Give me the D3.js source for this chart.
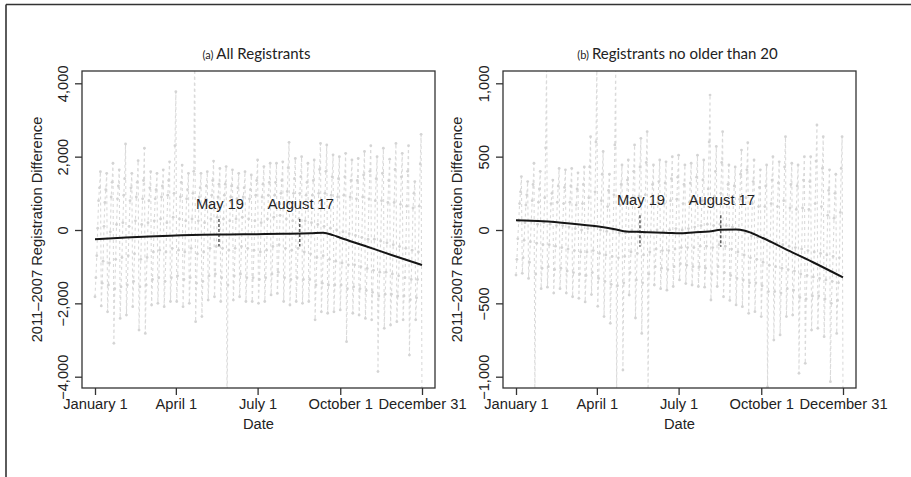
<!DOCTYPE html>
<html>
<head>
<meta charset="utf-8">
<script src="https://cdn.jsdelivr.net/npm/d3@7"></script>
<style>
  body { margin: 0; background: #fff; }
  .tick text { font-family: "Liberation Sans", Arial, sans-serif; font-size: 14.7px; fill: #222; }
  .lab { font-family: "Liberation Sans", Arial, sans-serif; font-size: 14.7px; fill: #222; }
  .title { font-family: Lato, "Open Sans", sans-serif; fill: #222; }
</style>
</head>
<body>
<svg id="chart" width="911" height="477"></svg>
<script>
// daily 2011-2007 differences, one row per week (Sat..Fri)
const allDaily = [
  -1820, -1300, -700, 50, 800, 1150, 1590,
  -2070, -1450, -850, 100, 750, 1100, 1545,
  -2230, -1500, -900, -50, 900, 1300, 1820,
  -3090, -1600, -800, 150, 850, 1200, 1640,
  -2410, -1550, -750, 200, 950, 1400, 2345,
  -2320, -1500, -700, 100, 800, 1150, 1545,
  -2090, -1400, -650, 250, 900, 1300, 1890,
  -2730, -1550, -800, 150, 850, 1350, 2230,
  -2820, -1500, -750, 200, 800, 1150, 1590,
  -2045, -1350, -600, 250, 850, 1100, 1545,
  -2000, -1300, -550, 300, 900, 1200, 1640,
  -2090, -1400, -600, 200, 950, 1350, 1860,
  -1950, -1300, -500, 350, 1000, 2300, 3770,
  -1950, -1250, -550, 300, 900, 1300, 1770,
  -2090, -1350, -600, 250, 850, 1100, 1545,
  -2000, -1300, -500, 300, 1000, 1600, 5200,
  -2500, -1450, -650, 250, 900, 1150, 1545,
  -2360, -1400, -600, 200, 850, 1200, 1590,
  -1910, -1250, -500, 300, 950, 1350, 1880,
  -1820, -1200, -450, 350, 900, 1250, 1680,
  -1950, -1300, -500, 300, 950, 1250, 1730,
  -5000, -1500, -550, 250, 900, 1200, 1640,
  -1910, -1250, -500, 300, 850, 1150, 1545,
  -1820, -1200, -450, 350, 900, 1150, 1590,
  -1950, -1300, -500, 300, 850, 1100, 1500,
  -1950, -1300, -550, 250, 950, 1350, 1910,
  -2000, -1350, -600, 200, 900, 1250, 1730,
  -1950, -1300, -550, 300, 950, 1300, 1820,
  -1770, -1200, -450, 350, 950, 1300, 1820,
  -1730, -1150, -400, 400, 1000, 1350, 1860,
  -1950, -1300, -500, 300, 1050, 1700, 2390,
  -2045, -1350, -550, 250, 1000, 1400, 1950,
  -1950, -1300, -500, 300, 1000, 1450, 2000,
  -2000, -1350, -600, 250, 950, 1300, 1820,
  -1950, -1350, -650, 200, 950, 1350, 1910,
  -2450, -1500, -750, 150, 1000, 1650, 2360,
  -2230, -1450, -700, 100, 1000, 1600, 2320,
  -2270, -1500, -800, 50, 950, 1450, 2050,
  -2230, -1500, -850, 0, 900, 1400, 2000,
  -2180, -1500, -900, -50, 950, 1450, 2090,
  -3045, -1600, -950, -100, 900, 1350, 1910,
  -2270, -1550, -950, -150, 850, 1350, 1950,
  -2320, -1600, -1000, -200, 900, 1500, 2140,
  -2410, -1650, -1050, -250, 850, 1600, 2300,
  -2450, -1700, -1100, -250, 800, 1400, 2000,
  -3860, -1800, -1150, -300, 800, 1550, 2230,
  -2680, -1750, -1150, -350, 750, 1350, 1930,
  -2590, -1750, -1200, -400, 750, 1650, 2360,
  -2500, -1800, -1250, -450, 700, 1450, 2090,
  -2450, -1800, -1300, -500, 650, 1600, 2300,
  -3410, -1900, -1350, -550, 600, 1000, 1320,
  -2450, -1850, -1350, -600, 650, 1800, 2610,
  -5000
];
const youngDaily = [
  -307, -200, -60, 60, 180, 260, 364,
  -295, -190, -70, 50, 170, 240, 330,
  -330, -220, -80, 60, 200, 310, 455,
  -1150, -300, -90, 40, 190, 280, 400,
  -400, -260, -100, 50, 220, 560, 1150,
  -390, -250, -100, 40, 180, 250, 340,
  -430, -270, -110, 30, 190, 300, 420,
  -400, -260, -120, 30, 180, 290, 410,
  -430, -280, -130, 20, 190, 300, 420,
  -455, -290, -140, 10, 170, 280, 390,
  -466, -300, -150, 0, 180, 310, 430,
  -490, -310, -150, 10, 220, 430, 636,
  -440, -290, -140, 20, 260, 600, 1150,
  -520, -330, -160, 0, 200, 380, 535,
  -590, -350, -170, -10, 160, 270, 380,
  -636, -370, -180, 0, 240, 580, 1150,
  -1150, -380, -190, -20, 170, 310, 443,
  -955, -360, -180, -20, 180, 340, 477,
  -443, -290, -150, 0, 220, 400, 580,
  -600, -340, -160, -10, 230, 430, 625,
  -705, -360, -170, -20, 240, 460, 670,
  -1150, -300, -150, -10, 180, 310, 443,
  -375, -250, -130, 0, 190, 330, 477,
  -400, -260, -140, -10, 180, 320, 465,
  -410, -270, -140, 0, 200, 350, 500,
  -385, -250, -130, 10, 210, 360, 510,
  -340, -230, -120, 0, 180, 310, 443,
  -365, -240, -120, 10, 190, 320, 455,
  -375, -250, -120, 20, 210, 360, 510,
  -385, -250, -110, 30, 200, 340, 477,
  -390, -260, -110, 40, 280, 600, 920,
  -477, -300, -120, 30, 230, 400, 570,
  -385, -250, -100, 40, 250, 460, 670,
  -455, -290, -110, 30, 200, 310, 443,
  -480, -310, -130, 20, 190, 300, 430,
  -511, -330, -150, 0, 210, 380, 545,
  -523, -340, -170, -20, 220, 410, 595,
  -568, -360, -190, -40, 180, 330, 477,
  -557, -360, -200, -50, 160, 290, 410,
  -590, -380, -220, -60, 160, 300, 443,
  -1070, -420, -240, -80, 180, 340, 500,
  -750, -420, -250, -90, 160, 320, 465,
  -715, -430, -260, -100, 200, 430, 636,
  -590, -400, -270, -110, 150, 310, 455,
  -580, -410, -280, -120, 140, 300, 443,
  -977, -460, -300, -130, 150, 340, 500,
  -909, -470, -310, -140, 140, 330, 500,
  -682, -450, -320, -150, 180, 470, 716,
  -670, -450, -330, -160, 160, 420, 636,
  -727, -470, -340, -170, 100, 270, 410,
  -1034, -500, -350, -180, 80, 250, 380,
  -705, -480, -360, -190, 120, 420, 636,
  -1150
];
// smoothed trend: [day of year, value]
const allSmooth = [[0,-250],[30,-210],[60,-175],[90,-150],[120,-130],[150,-120],[180,-115],
  [210,-105],[240,-90],[254,-75],[265,-140],[273,-210],[300,-430],[330,-680],[364,-955]];
const youngSmooth = [[0,66],[30,60],[60,45],[90,25],[110,5],[120,-8],[140,-14],[170,-20],[181,-23],
  [200,-15],[215,-10],[228,2],[245,4],[255,-5],[273,-50],[300,-130],[330,-218],[364,-323]];
const markers = [{date: "2011-05-19", label: "May 19"}, {date: "2011-08-17", label: "August 17"}];
const xTickDates = ["2011-01-01", "2011-04-01", "2011-07-01", "2011-10-01", "2011-12-31"];
const allTicks = [-4000, -2000, 0, 2000, 4000];
const youngTicks = [-1000, -500, 0, 500, 1000];

const parse = d3.timeParse("%Y-%m-%d");
const start = parse("2011-01-01");
const svg = d3.select('#chart');

svg.append('line').attr('x1', 6).attr('y1', 4.5).attr('x2', 911).attr('y2', 4.5)
  .attr('stroke', '#333').attr('stroke-width', 1.6);
svg.append('line').attr('x1', 6).attr('y1', 4.5).attr('x2', 6).attr('y2', 477)
  .attr('stroke', '#333').attr('stroke-width', 1.6);

function drawPanel(opt){
  const boxW = 353, boxH = 317, inset = 13;
  const g = svg.append('g').attr('transform', `translate(${opt.left},71)`);

  const x = d3.scaleTime()
    .domain([start, parse("2011-12-31")])
    .range([inset, boxW - inset]);
  const y = d3.scaleLinear()
    .domain([opt.ticks[0], opt.ticks[4]])
    .range([boxH - 11.3, 12.3]);

  const day = (i) => d3.timeDay.offset(start, i);
  const clipId = 'clip' + opt.key;
  g.append('clipPath').attr('id', clipId)
    .append('rect').attr('width', boxW).attr('height', boxH);

  const plot = g.append('g').attr('clip-path', `url(#${clipId})`);
  const line = d3.line().x((d, i) => x(day(i))).y(d => y(d));
  plot.append('path')
    .datum(opt.daily)
    .attr('d', line)
    .attr('fill', 'none')
    .attr('stroke', '#dadada')
    .attr('stroke-width', 1.1)
    .attr('stroke-dasharray', '3,3');
  plot.selectAll('circle.pt')
    .data(opt.daily)
    .enter()
    .append('circle')
      .attr('class', 'pt')
      .attr('cx', (d, i) => x(day(i)))
      .attr('cy', d => y(d))
      .attr('r', 1.4)
      .attr('fill', '#d4d4d4');

  plot.append('path')
    .datum(opt.smooth)
    .attr('d', d3.line().x(d => x(day(d[0]))).y(d => y(d[1])).curve(d3.curveMonotoneX))
    .attr('fill', 'none')
    .attr('stroke', '#151515')
    .attr('stroke-width', 2);

  // event markers
  markers.forEach((m) => {
    const mx = x(parse(m.date));
    g.append('line')
      .attr('x1', mx).attr('x2', mx)
      .attr('y1', y(opt.markTop)).attr('y2', y(opt.markBottom))
      .attr('stroke', '#222').attr('stroke-width', 1.1).attr('stroke-dasharray', '3,2');
    g.append('text')
      .attr('class', 'lab')
      .attr('x', mx + 1)
      .attr('y', y(opt.markTop) - 10)
      .style('text-anchor', 'middle')
      .text(m.label);
  });

  g.append('rect')
    .attr('width', boxW).attr('height', boxH)
    .attr('fill', 'none').attr('stroke', '#333').attr('stroke-width', 1.3);

  // x axis
  const xAxis = g.append('g')
    .attr('transform', `translate(0,${boxH})`)
    .call(d3.axisBottom(x)
      .tickValues(xTickDates.map(parse))
      .tickFormat(d3.timeFormat('%B %-d'))
      .tickSize(7).tickPadding(4));
  xAxis.select('.domain').remove();
  xAxis.selectAll('.tick line').attr('stroke', '#333').attr('stroke-width', 1.3);
  xAxis.selectAll('.tick text').attr('dy', '0.71em').attr('y', 11);

  // y axis
  const yAxis = g.append('g')
    .call(d3.axisLeft(y)
      .tickValues(opt.ticks)
      .tickFormat(d3.format(','))
      .tickSize(7));
  yAxis.select('.domain').remove();
  yAxis.selectAll('.tick line').attr('stroke', '#333').attr('stroke-width', 1.3);
  yAxis.selectAll('.tick text')
    .attr('x', null).attr('dy', null)
    .attr('transform', 'translate(-14,0) rotate(-90)')
    .style('text-anchor', 'middle');

  g.append('text')
    .attr('class', 'lab')
    .attr('transform', `translate(${opt.ylabX},${boxH / 2}) rotate(-90)`)
    .style('text-anchor', 'middle')
    .text('2011\u20132007 Registration Difference');

  g.append('text')
    .attr('class', 'lab')
    .attr('x', boxW / 2)
    .attr('y', boxH + 41)
    .style('text-anchor', 'middle')
    .text('Date');

  const t = g.append('text')
    .attr('class', 'title')
    .attr('x', boxW / 2 - 2)
    .attr('y', -12)
    .style('text-anchor', 'middle');
  t.append('tspan').style('font-size', '11px').text(opt.tag + ' ');
  t.append('tspan').style('font-size', '15px').text(opt.title);
}

drawPanel({key: 'a', left: 82, daily: allDaily, smooth: allSmooth, ticks: allTicks,
  markTop: 300, markBottom: -450, ylabX: -40, tag: '(a)', title: 'All Registrants'});
drawPanel({key: 'b', left: 503, daily: youngDaily, smooth: youngSmooth, ticks: youngTicks,
  markTop: 100, markBottom: -115, ylabX: -41, tag: '(b)', title: 'Registrants no older than 20'});
</script>
</body>
</html>
